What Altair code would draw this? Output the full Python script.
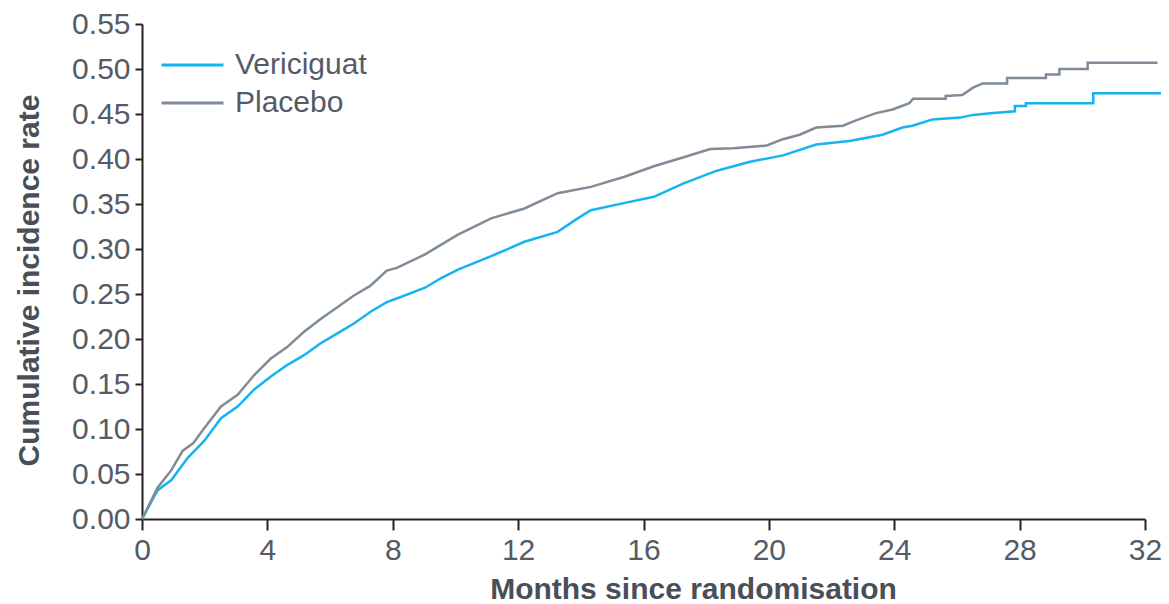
import altair as alt
import pandas as pd

series_names = ["Vericiguat", "Placebo"]
series_colors = ["#14b4f0", "#7f8c98"]

veri_months = [0, 0.5, 0.93, 1.46, 1.99, 2.52, 3.05, 3.58, 4.1, 4.63, 5.17, 5.69, 6.22, 6.75,
               7.28, 7.81, 8.13, 9.03, 9.56, 10.08, 11.14, 12.2, 13.26, 13.9, 14.32, 15.37,
               16.33, 17.28, 18.34, 19.4, 20.45, 21.51, 22.57, 23.63, 24.26, 24.58, 25.22,
               26.1, 26.52, 27.16, 27.85, 27.85, 28.2, 28.2, 30.35, 30.35, 32.6]
veri_rate = [0, 0.032, 0.043, 0.068, 0.087, 0.112, 0.125, 0.144, 0.158, 0.171, 0.182, 0.195,
             0.206, 0.217, 0.230, 0.241, 0.245, 0.257, 0.268, 0.277, 0.292, 0.308, 0.319,
             0.334, 0.343, 0.351, 0.358, 0.373, 0.387, 0.397, 0.404, 0.416, 0.420, 0.427,
             0.435, 0.437, 0.444, 0.446, 0.449, 0.451, 0.453, 0.459, 0.459, 0.462, 0.462,
             0.473, 0.473]

plac_months = [0, 0.5, 0.93, 1.3, 1.63, 1.99, 2.52, 3.05, 3.58, 4.1, 4.63, 5.17, 5.69, 6.22,
               6.75, 7.28, 7.81, 8.13, 9.03, 10.08, 11.14, 12.2, 13.26, 14.32, 15.37, 16.33,
               17.28, 18.13, 18.87, 19.93, 20.45, 20.98, 21.51, 22.36, 22.78, 23.42, 23.95,
               24.48, 24.6, 25.64, 25.64, 26.17, 26.5, 26.82, 27.6, 27.6, 28.84, 28.84,
               29.27, 29.27, 30.17, 30.17, 32.4]
plac_rate = [0, 0.035, 0.054, 0.076, 0.084, 0.101, 0.125, 0.138, 0.160, 0.178, 0.191, 0.208,
             0.222, 0.235, 0.248, 0.259, 0.276, 0.279, 0.294, 0.316, 0.334, 0.345, 0.362,
             0.369, 0.380, 0.392, 0.402, 0.411, 0.412, 0.415, 0.422, 0.427, 0.435, 0.437,
             0.443, 0.451, 0.455, 0.462, 0.467, 0.467, 0.470, 0.471, 0.479, 0.484, 0.484,
             0.490, 0.490, 0.494, 0.494, 0.500, 0.500, 0.507, 0.507]

x_ticks = [0, 4, 8, 12, 16, 20, 24, 28, 32]
y_ticks = [0, 0.05, 0.10, 0.15, 0.20, 0.25, 0.30, 0.35, 0.40, 0.45, 0.50, 0.55]

rows = []
for i, (m, r) in enumerate(zip(veri_months, veri_rate)):
    rows.append({"month": m, "rate": r, "group": series_names[0], "order": i})
for i, (m, r) in enumerate(zip(plac_months, plac_rate)):
    rows.append({"month": m, "rate": r, "group": series_names[1], "order": i})
df = pd.DataFrame(rows)

FONT = "Liberation Sans"
TXT = "#555b66"

chart = alt.Chart(df).mark_line(strokeWidth=2.5, interpolate="linear").encode(
    x=alt.X("month:Q",
            scale=alt.Scale(domain=[0, 32], nice=False, zero=False),
            axis=alt.Axis(values=x_ticks, title="Months since randomisation",
                          grid=False, tickSize=11, tickWidth=2, tickColor="#222222",
                          domainColor="#222222", domainWidth=2, labelFlush=False,
                          labelFont=FONT, labelFontSize=30, labelColor=TXT, labelPadding=5,
                          titleFont=FONT, titleFontSize=30, titleFontWeight="bold",
                          titleColor="#4a4f57", titleX=551, titleY=79,
                          titleBaseline="alphabetic", titleAlign="center")),
    y=alt.Y("rate:Q",
            scale=alt.Scale(domain=[0, 0.55], nice=False),
            axis=alt.Axis(values=y_ticks, format=".2f", title="Cumulative incidence rate",
                          grid=False, tickSize=7, tickWidth=2, tickColor="#222222",
                          domainColor="#222222", domainWidth=2, labelFlush=False,
                          labelFont=FONT, labelFontSize=30, labelColor=TXT, labelPadding=5,
                          titleFont=FONT, titleFontSize=30, titleFontWeight="bold",
                          titleColor="#4a4f57", titleX=-113, titleY=256, titleAngle=270,
                          titleBaseline="middle", titleAlign="center")),
    color=alt.Color("group:N",
                    scale=alt.Scale(domain=series_names, range=series_colors),
                    legend=alt.Legend(title=None, orient="none", legendX=18, legendY=24,
                                      symbolType="M-1,0H3", symbolSize=961,
                                      symbolStrokeWidth=3, rowPadding=6, padding=0,
                                      labelFont=FONT, labelFontSize=30, labelColor=TXT,
                                      labelOffset=41)),
    order="order:Q",
).properties(
    width=1003, height=495,
    autosize=alt.AutoSizeParams(type="none"),
    padding={"left": 134, "top": 16, "right": 16, "bottom": 85},
    background="white",
).configure_view(stroke=None)

chart.save("out.html", embed_options={"renderer": "svg", "actions": False})
